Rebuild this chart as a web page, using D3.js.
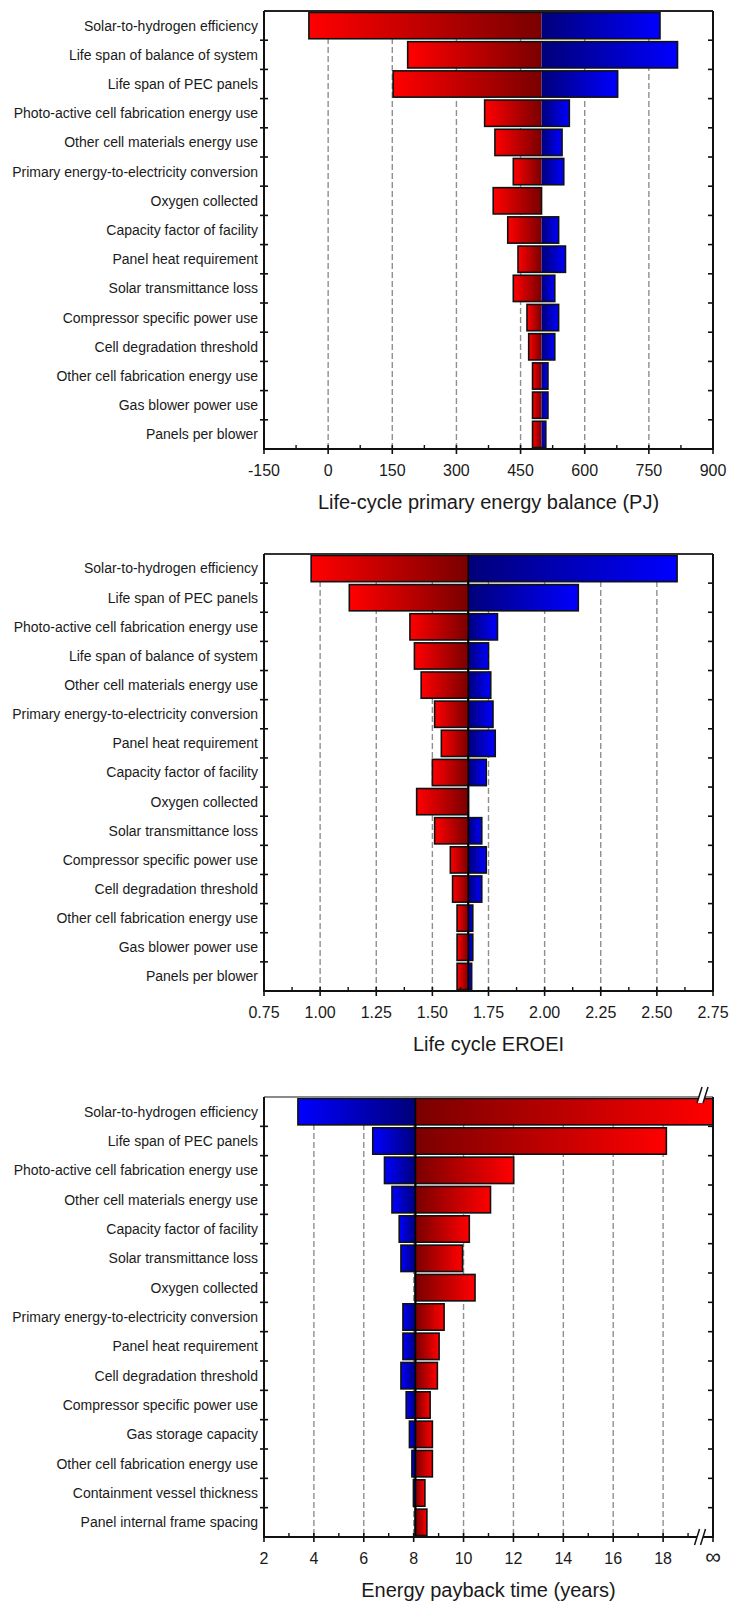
<!DOCTYPE html>
<html>
<head>
<meta charset="utf-8">
<script src="https://cdn.jsdelivr.net/npm/d3@7"></script>
<style>
  body { margin: 0; background: #fff; }
  svg { display: block; }
  text { font-family: "Liberation Sans", Arial, sans-serif; fill: #1a1a1a; }
</style>
</head>
<body>
<svg id="chart" width="733" height="1602"></svg>
<script>
// ---------- Panel A: life-cycle primary energy balance (PJ) ----------
const energyCategories = [
  "Solar-to-hydrogen efficiency",
  "Life span of balance of system",
  "Life span of PEC panels",
  "Photo-active cell fabrication energy use",
  "Other cell materials energy use",
  "Primary energy-to-electricity conversion",
  "Oxygen collected",
  "Capacity factor of facility",
  "Panel heat requirement",
  "Solar transmittance loss",
  "Compressor specific power use",
  "Cell degradation threshold",
  "Other cell fabrication energy use",
  "Gas blower power use",
  "Panels per blower"
];
const energyBase = 499;
const energyLow  = [-45, 186, 152, 366, 390, 433, 386, 420, 444, 433, 465, 469, 478, 478, 478];
const energyHigh = [776, 817, 677, 564, 547, 551, 499, 539, 555, 530, 539, 530, 514, 514, 509];
const energyTicks = [-150, 0, 150, 300, 450, 600, 750, 900];

// ---------- Panel B: life cycle EROEI ----------
const eroeiCategories = [
  "Solar-to-hydrogen efficiency",
  "Life span of PEC panels",
  "Photo-active cell fabrication energy use",
  "Life span of balance of system",
  "Other cell materials energy use",
  "Primary energy-to-electricity conversion",
  "Panel heat requirement",
  "Capacity factor of facility",
  "Oxygen collected",
  "Solar transmittance loss",
  "Compressor specific power use",
  "Cell degradation threshold",
  "Other cell fabrication energy use",
  "Gas blower power use",
  "Panels per blower"
];
const eroeiBase = 1.66;
const eroeiLow  = [0.96, 1.13, 1.40, 1.42, 1.45, 1.51, 1.54, 1.50, 1.43, 1.51, 1.58, 1.59, 1.61, 1.61, 1.61];
const eroeiHigh = [2.59, 2.15, 1.79, 1.75, 1.76, 1.77, 1.78, 1.74, 1.66, 1.72, 1.74, 1.72, 1.68, 1.68, 1.675];
const eroeiTicks = [0.75, 1.00, 1.25, 1.50, 1.75, 2.00, 2.25, 2.50, 2.75];

// ---------- Panel C: energy payback time (years) ----------
const paybackCategories = [
  "Solar-to-hydrogen efficiency",
  "Life span of PEC panels",
  "Photo-active cell fabrication energy use",
  "Other cell materials energy use",
  "Capacity factor of facility",
  "Solar transmittance loss",
  "Oxygen collected",
  "Primary energy-to-electricity conversion",
  "Panel heat requirement",
  "Cell degradation threshold",
  "Compressor specific power use",
  "Gas storage capacity",
  "Other cell fabrication energy use",
  "Containment vessel thickness",
  "Panel internal frame spacing"
];
const paybackBase = 8.07;
const paybackLow  = [3.36, 6.36, 6.83, 7.13, 7.42, 7.49, 8.07, 7.57, 7.57, 7.49, 7.70, 7.83, 7.93, 7.99, 8.07];
const paybackHigh = [Infinity, 18.13, 12.01, 11.08, 10.23, 9.96, 10.46, 9.22, 9.02, 8.95, 8.66, 8.75, 8.75, 8.45, 8.53];
const paybackTicks = [2, 4, 6, 8, 10, 12, 14, 16, 18, 20];
const paybackTickLabels = ["2", "4", "6", "8", "10", "12", "14", "16", "18", "\u221E"];

const svg = d3.select("#chart");
const defs = svg.append("defs");

// Bar fills: bright at the outer end, dark at the base value
function gradient(id, from, to) {
  const g = defs.append("linearGradient").attr("id", id)
    .attr("x1", 0).attr("x2", 1).attr("y1", 0).attr("y2", 0);
  g.append("stop").attr("offset", "0%").attr("stop-color", from);
  g.append("stop").attr("offset", "100%").attr("stop-color", to);
}
gradient("redLeft", "#ff0000", "#7a0000");
gradient("redRight", "#7a0000", "#ff0000");
gradient("blueLeft", "#0000ff", "#00007a");
gradient("blueRight", "#00007a", "#0000ff");

const plotLeft = 264, plotRight = 713;

function tornado(opt) {
  const g = svg.append("g");
  const x = d3.scaleLinear().domain(opt.domain).range([plotLeft, plotRight]).clamp(true);
  const y = d3.scaleBand().domain(opt.categories)
    .range([opt.top, opt.bottom]).paddingInner(0.1).paddingOuter(0.05);
  const step = y.step();
  const rows = opt.categories.map((c, i) => ({ c, lo: opt.low[i], hi: opt.high[i] }));

  // dashed vertical gridlines at the interior major ticks
  g.append("g").selectAll("line")
    .data(opt.ticks.slice(1, -1))
    .join("line")
    .attr("x1", d => x(d)).attr("x2", d => x(d))
    .attr("y1", opt.top).attr("y2", opt.bottom)
    .attr("stroke", "#8f8f8f").attr("stroke-width", 1.4)
    .attr("stroke-dasharray", "6,3");

  // base line through the bars
  if (opt.centerLine) {
    g.append("line")
      .attr("x1", x(opt.base)).attr("x2", x(opt.base))
      .attr("y1", opt.top).attr("y2", opt.bottom)
      .attr("stroke", "#000").attr("stroke-width", 2);
  }

  const bars = g.append("g").selectAll("g").data(rows).join("g");
  // segment below the base value
  bars.filter(d => d.lo < opt.base).append("rect")
    .attr("x", d => x(d.lo)).attr("width", d => x(opt.base) - x(d.lo))
    .attr("y", d => y(d.c)).attr("height", y.bandwidth())
    .attr("fill", `url(#${opt.lowFill})`);
  // segment above the base value
  bars.filter(d => d.hi > opt.base).append("rect")
    .attr("x", x(opt.base)).attr("width", d => x(Math.min(d.hi, opt.domain[1])) - x(opt.base))
    .attr("y", d => y(d.c)).attr("height", y.bandwidth())
    .attr("fill", `url(#${opt.highFill})`);
  // outline around the whole bar
  bars.append("rect")
    .attr("x", d => x(Math.min(d.lo, opt.base)))
    .attr("width", d => x(Math.min(Math.max(d.hi, opt.base), opt.domain[1])) - x(Math.min(d.lo, opt.base)))
    .attr("y", d => y(d.c)).attr("height", y.bandwidth())
    .attr("fill", "none").attr("stroke", "#111").attr("stroke-width", 1.6);

  if (opt.centerLine) {
    g.append("line")
      .attr("x1", x(opt.base)).attr("x2", x(opt.base))
      .attr("y1", opt.top).attr("y2", opt.bottom)
      .attr("stroke", "#000").attr("stroke-width", 1.6);
  }

  // frame
  g.append("line").attr("x1", plotLeft).attr("x2", plotRight)
    .attr("y1", opt.top).attr("y2", opt.top)
    .attr("stroke", opt.topColor).attr("stroke-width", 2);
  g.append("line").attr("x1", plotLeft).attr("x2", plotLeft)
    .attr("y1", opt.top).attr("y2", opt.bottom).attr("stroke", "#111").attr("stroke-width", 2);
  g.append("line").attr("x1", plotRight).attr("x2", plotRight)
    .attr("y1", opt.top).attr("y2", opt.bottom).attr("stroke", "#111").attr("stroke-width", 2);
  g.append("line").attr("x1", plotLeft - 1).attr("x2", plotRight + 1)
    .attr("y1", opt.bottom).attr("y2", opt.bottom).attr("stroke", "#111").attr("stroke-width", 2);

  // category boundary ticks on the left and right axes
  const bounds = d3.range(1, opt.categories.length).map(i => y.range()[0] + i * step);
  g.append("g").selectAll("line").data(bounds).join("line")
    .attr("x1", plotLeft - 4).attr("x2", plotLeft + 4)
    .attr("y1", d => d).attr("y2", d => d)
    .attr("stroke", "#111").attr("stroke-width", 1.6);
  g.append("g").selectAll("line").data(bounds).join("line")
    .attr("x1", plotRight - 5).attr("x2", plotRight)
    .attr("y1", d => d).attr("y2", d => d)
    .attr("stroke", "#111").attr("stroke-width", 1.6);

  // bottom axis: major ticks, minor ticks between them
  g.append("g").selectAll("line").data(opt.ticks).join("line")
    .attr("x1", d => x(d)).attr("x2", d => x(d))
    .attr("y1", opt.bottom - 4).attr("y2", opt.bottom + 5)
    .attr("stroke", "#111").attr("stroke-width", 1.6);
  const minor = opt.ticks.slice(0, -1).map((t, i) => (t + opt.ticks[i + 1]) / 2);
  g.append("g").selectAll("line").data(minor).join("line")
    .attr("x1", d => x(d)).attr("x2", d => x(d))
    .attr("y1", opt.bottom - 4).attr("y2", opt.bottom)
    .attr("stroke", "#111").attr("stroke-width", 1.4);

  g.append("g").selectAll("text").data(opt.ticks).join("text")
    .attr("x", d => x(d)).attr("y", opt.bottom + 27)
    .attr("text-anchor", "middle")
    .style("font-size", (d, i) => opt.tickLabels[i] === "\u221E" ? "22px" : "16px")
    .text((d, i) => opt.tickLabels[i]);

  g.append("text")
    .attr("x", (plotLeft + plotRight) / 2).attr("y", opt.bottom + 60)
    .attr("text-anchor", "middle").style("font-size", "20px")
    .text(opt.title);

  // category names
  g.append("g").selectAll("text").data(rows).join("text")
    .attr("x", 258).attr("y", d => y(d.c) + y.bandwidth() / 2)
    .attr("dy", "0.35em").attr("text-anchor", "end")
    .style("font-size", "14px")
    .text(d => d.c);

  return { g, x, y };
}

tornado({
  categories: energyCategories, low: energyLow, high: energyHigh, base: energyBase,
  domain: [-150, 900], ticks: energyTicks, tickLabels: energyTicks.map(String),
  top: 11, bottom: 449, lowFill: "redLeft", highFill: "blueRight",
  centerLine: false, topColor: "#222",
  title: "Life-cycle primary energy balance (PJ)"
});

tornado({
  categories: eroeiCategories, low: eroeiLow, high: eroeiHigh, base: eroeiBase,
  domain: [0.75, 2.75], ticks: eroeiTicks, tickLabels: eroeiTicks.map(d3.format(".2f")),
  top: 554, bottom: 991, lowFill: "redLeft", highFill: "blueRight",
  centerLine: true, topColor: "#333",
  title: "Life cycle EROEI"
});

const payback = tornado({
  categories: paybackCategories, low: paybackLow, high: paybackHigh, base: paybackBase,
  domain: [2, 20], ticks: paybackTicks, tickLabels: paybackTickLabels,
  top: 1097, bottom: 1537, lowFill: "blueLeft", highFill: "redRight",
  centerLine: true, topColor: "#8a8a8a",
  title: "Energy payback time (years)"
});

// axis break marks before the infinity end of the payback axis
function breakMark(cx, cy) {
  const b = payback.g.append("g");
  b.append("polygon")
    .attr("points", `${cx - 6},${cy + 8} ${cx - 1},${cy - 8} ${cx + 5},${cy - 8} ${cx},${cy + 8}`)
    .attr("fill", "#fff");
  [[-6, -1], [0, 5]].forEach(([a, c]) => {
    b.append("line")
      .attr("x1", cx + a).attr("y1", cy + 8).attr("x2", cx + c).attr("y2", cy - 8)
      .attr("stroke", "#111").attr("stroke-width", 1.5);
  });
}
breakMark(payback.x(19.6), 1095);
breakMark(payback.x(19.5), 1537);
</script>
</body>
</html>
